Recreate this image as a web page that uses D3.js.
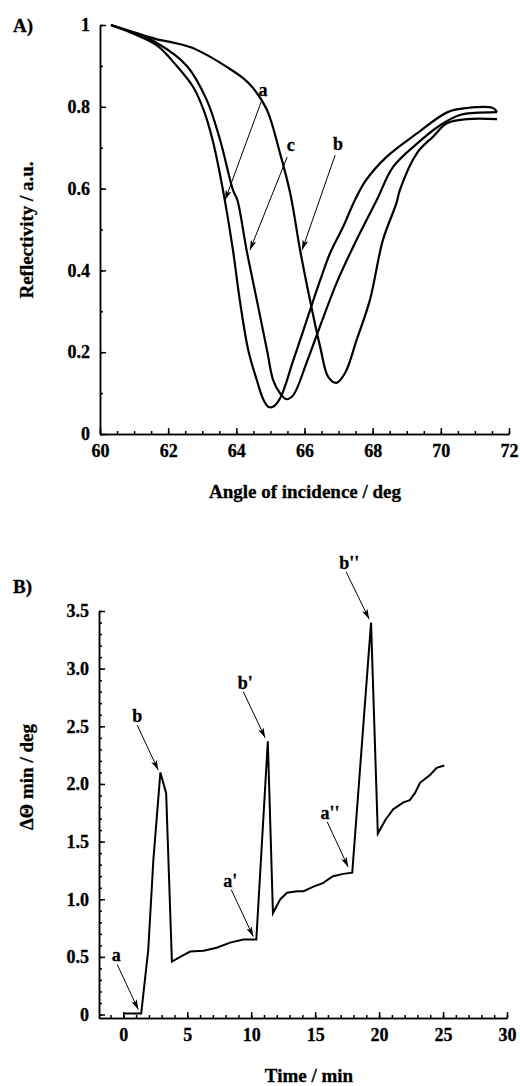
<!DOCTYPE html>
<html>
<head>
<meta charset="utf-8">
<script src="https://cdn.jsdelivr.net/npm/d3@7"></script>
<style>
  body { margin: 0; background: #fff; }
</style>
</head>
<body>
<div id="chart"></div>
<script>
// ---- data ----
// A) reflectivity vs angle, three curves
var curveA = [[60.32,1.0],[61.0,0.978],[61.67,0.95],[62.2,0.905],[62.73,0.849],[63.05,0.79],[63.3,0.72],[63.6,0.6],
  [63.9,0.45],[64.1,0.328],[64.35,0.205],[64.6,0.132],[64.8,0.083],[64.95,0.066],[65.1,0.068],[65.3,0.09],[65.67,0.18],
  [65.97,0.254],[66.46,0.376],[66.75,0.442],[67.13,0.506],[67.48,0.572],[67.8,0.62],[68.4,0.677],[69.3,0.735],
  [70.2,0.787],[70.77,0.797],[71.53,0.797],[71.65,0.787]];
var curveC = [[60.32,1.0],[61.0,0.98],[61.67,0.956],[62.55,0.9],[63.13,0.817],[63.52,0.72],[63.9,0.597],[64.03,0.572],
  [64.3,0.45],[64.6,0.328],[64.9,0.205],[65.08,0.132],[65.28,0.1],[65.47,0.085],[65.67,0.095],[66.06,0.174],
  [66.45,0.262],[66.94,0.369],[67.43,0.458],[68.12,0.572],[68.6,0.653],[69.3,0.71],[69.98,0.755],[70.56,0.78],
  [71.0,0.785],[71.65,0.787]];
var curveB = [[60.32,1.0],[61.0,0.982],[61.67,0.965],[62.14,0.957],[62.64,0.946],[63.13,0.927],[63.73,0.897],
  [64.2,0.87],[64.5,0.845],[64.9,0.792],[65.28,0.687],[65.58,0.589],[65.87,0.45],[66.16,0.328],[66.46,0.213],
  [66.7,0.139],[66.94,0.125],[67.19,0.149],[67.53,0.23],[67.92,0.328],[68.3,0.474],[68.7,0.565],[68.8,0.597],
  [69.3,0.687],[69.77,0.727],[70.18,0.76],[70.77,0.77],[71.65,0.77]];
// labels: [text, labelX, labelY, lineStartX, lineStartY, tipX, tipY]
var notesA = [["a",64.78,0.843,64.75,0.817,63.67,0.572],
              ["c",65.6,0.707,65.49,0.677,64.4,0.45],
              ["b",66.98,0.711,66.9,0.682,65.93,0.45]];
var xTicksA = [60,62,64,66,68,70,72];
var yTicksA = [0,0.2,0.4,0.6,0.8,1];

// B) shift of minimum angle vs time
var shiftB = [[0,0.01],[1.4,0.01],[1.95,0.56],[2.35,1.34],[2.9,2.1],[3.35,1.92],[3.8,0.46],[4.45,0.5],[5.23,0.546],
  [6.27,0.554],[7.3,0.58],[8.35,0.624],[9.4,0.65],[10.4,0.65],[11.3,2.37],[11.7,0.88],[12.27,1.0],[12.8,1.057],
  [13.6,1.07],[14.1,1.07],[14.87,1.11],[15.6,1.14],[16.4,1.2],[17.2,1.22],[17.9,1.23],[19.37,3.4],[19.9,1.57],
  [20.5,1.69],[21.1,1.78],[21.9,1.84],[22.4,1.86],[22.8,1.92],[23.2,2.01],[24.0,2.08],[24.5,2.14],[25.1,2.16]];
var notesB = [["a",-0.55,0.52,-0.47,0.433,1.17,0.043],
              ["a'",8.36,1.16,8.44,1.083,10.16,0.676],
              ["a''",16.17,1.75,15.94,1.672,17.58,1.28],
              ["b",1.09,2.59,1.09,2.51,2.73,2.12],
              ["b'",9.53,2.88,9.38,2.8,11.09,2.4],
              ["b''",17.66,3.92,17.42,3.84,19.22,3.43]];
var xTicksB = [0,5,10,15,20,25,30];
var yTicksB = [0,0.5,1,1.5,2,2.5,3,3.5];

var FONT = "'Liberation Serif', 'Times New Roman', serif";

var svg = d3.select("#chart").append("svg")
  .attr("width", 520)
  .attr("height", 1086);

svg.append("defs").append("marker")
  .attr("id", "arrow")
  .attr("viewBox", "0 0 10 6")
  .attr("refX", 10).attr("refY", 3)
  .attr("markerWidth", 10).attr("markerHeight", 6)
  .attr("markerUnits", "userSpaceOnUse")
  .attr("orient", "auto")
  .append("path")
  .attr("d", "M0,0 L10,3 L0,6 L2.5,3 Z")
  .attr("fill", "#000");

// bold serif text, slightly stroked to match the heavy print
function styleText(sel, size) {
  return sel
    .attr("font-family", FONT)
    .attr("font-weight", "bold")
    .attr("font-size", size)
    .attr("fill", "#000")
    .attr("stroke", "#000")
    .attr("stroke-width", 0.3);
}

function addText(x, y, size, str) {
  return styleText(svg.append("text").attr("x", x).attr("y", y), size).text(str);
}

function drawAxes(x, y, xt, yt, xMinor, yMinor, yFmt) {
  var g = svg.append("g");
  var y0 = y.range()[0], x0 = x.range()[0];

  g.append("g").attr("transform", `translate(0,${y0})`)
    .call(d3.axisBottom(x).tickValues(xMinor).tickSizeInner(-3).tickSizeOuter(0).tickFormat(""));
  g.append("g").attr("transform", `translate(0,${y0})`)
    .call(d3.axisBottom(x).tickValues(xt).tickSizeInner(-6).tickSizeOuter(0).tickPadding(10).tickFormat(d3.format("")));
  g.append("g").attr("transform", `translate(${x0},0)`)
    .call(d3.axisLeft(y).tickValues(yMinor).tickSizeInner(-3).tickSizeOuter(0).tickFormat(""));
  g.append("g").attr("transform", `translate(${x0},0)`)
    .call(d3.axisLeft(y).tickValues(yt).tickSizeInner(-6).tickSizeOuter(0).tickPadding(10).tickFormat(yFmt));

  g.selectAll("path.domain, line").attr("stroke", "#000").attr("stroke-width", 1.5);
  styleText(g.selectAll("text"), 18);
}

function drawNotes(x, y, notes) {
  notes.forEach(function(n) {
    svg.append("line")
      .attr("x1", x(n[3])).attr("y1", y(n[4]))
      .attr("x2", x(n[5])).attr("y2", y(n[6]))
      .attr("stroke", "#000").attr("stroke-width", 1)
      .attr("marker-end", "url(#arrow)");
    addText(x(n[1]), y(n[2]), 18, n[0])
      .attr("text-anchor", "middle")
      .attr("dy", "0.35em");
  });
}

// ---- panel A ----
var xA = d3.scaleLinear().domain([60, 72]).range([100, 509]);
var yA = d3.scaleLinear().domain([0, 1]).range([434, 25]);

drawAxes(xA, yA, xTicksA, yTicksA, d3.range(60, 72.01, 0.5), d3.range(0, 1.001, 0.1), d3.format(""));

var lineA = d3.line().x(d => xA(d[0])).y(d => yA(d[1])).curve(d3.curveCatmullRom.alpha(0.5));
[curveA, curveB, curveC].forEach(function(c) {
  svg.append("path").datum(c)
    .attr("d", lineA)
    .attr("fill", "none")
    .attr("stroke", "#000")
    .attr("stroke-width", 2.2);
});
drawNotes(xA, yA, notesA);

addText(13, 32, 19, "A)");
addText(305, 498, 19, "Angle of incidence / deg").attr("text-anchor", "middle");
addText(0, 0, 19, "Reflectivity / a.u.")
  .attr("transform", "translate(33,230) rotate(-90)")
  .attr("text-anchor", "middle");

// ---- panel B ----
var xB = d3.scaleLinear().domain([-1.9, 30]).range([99, 507]);
var yB = d3.scaleLinear().domain([-0.03, 3.5]).range([1018, 611]);

drawAxes(xB, yB, xTicksB, yTicksB, d3.range(-1, 30.01, 1), d3.range(0, 3.501, 0.1),
  d => d === 0 ? "0" : d.toFixed(1));

var lineB = d3.line().x(d => xB(d[0])).y(d => yB(d[1]));
svg.append("path").datum(shiftB)
  .attr("d", lineB)
  .attr("fill", "none")
  .attr("stroke", "#000")
  .attr("stroke-width", 2)
  .attr("stroke-linejoin", "miter");
drawNotes(xB, yB, notesB);

addText(13, 593, 19, "B)");
addText(309, 1082, 19, "Time / min").attr("text-anchor", "middle");
addText(0, 0, 19, "ΔΘ min / deg")
  .attr("transform", "translate(33,777) rotate(-90)")
  .attr("text-anchor", "middle");
</script>
</body>
</html>
